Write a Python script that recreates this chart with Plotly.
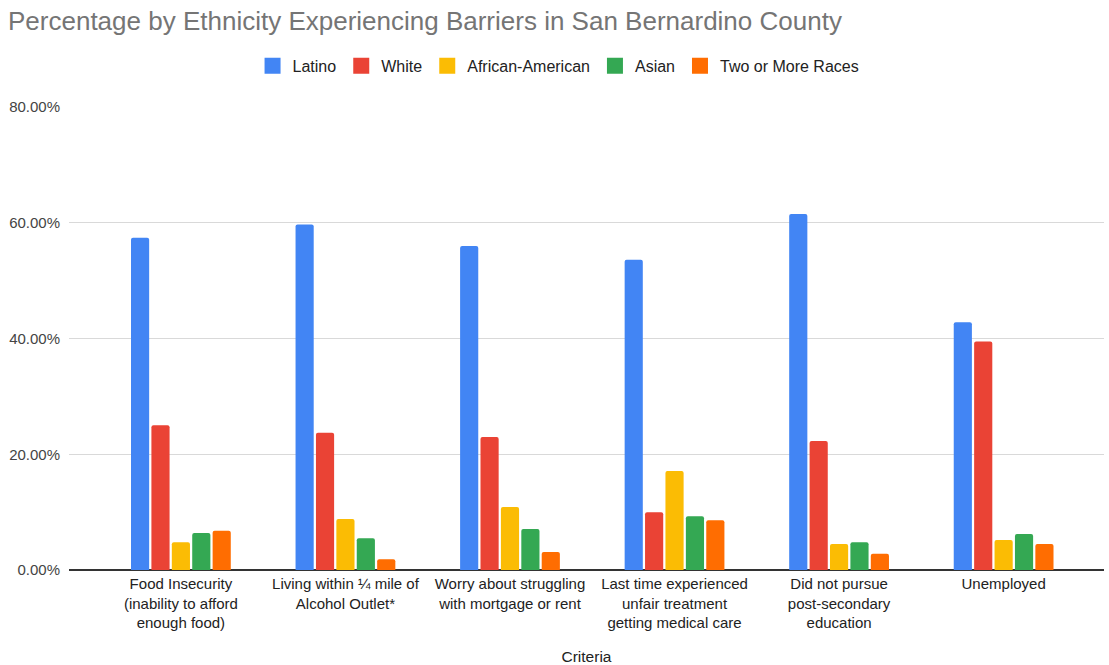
import plotly.graph_objects as go

# Survey criteria (x categories) and percentage per ethnic group
criteria = [
    "Food Insecurity<br>(inability to afford<br>enough food)",
    "Living within ¼ mile of<br>Alcohol Outlet*",
    "Worry about struggling<br>with mortgage or rent",
    "Last time experienced<br>unfair treatment<br>getting medical care",
    "Did not pursue<br>post-secondary<br>education",
    "Unemployed",
]

latino = [57.4, 59.7, 56.0, 53.6, 61.5, 42.8]
white = [25.0, 23.7, 23.0, 10.0, 22.3, 39.5]
african_american = [4.8, 8.8, 10.9, 17.1, 4.5, 5.2]
asian = [6.4, 5.5, 7.1, 9.3, 4.8, 6.2]
two_or_more = [6.8, 1.85, 3.1, 8.6, 2.8, 4.5]

y_ticks = [0, 20, 40, 60, 80]
y_tick_text = ["0.00%", "20.00%", "40.00%", "60.00%", "80.00%"]

series = [
    ("Latino", latino, "#4285F4"),
    ("White", white, "#EA4335"),
    ("African-American", african_american, "#FBBC04"),
    ("Asian", asian, "#34A853"),
    ("Two or More Races", two_or_more, "#FF6D01"),
]

fig = go.Figure()
for name, values, color in series:
    fig.add_trace(go.Bar(
        name=name,
        x=criteria,
        y=values,
        legendgroup=name,
        showlegend=False,
        marker=dict(color=color, line=dict(width=0)),
        hovertemplate="%{y:.2f}%<extra>" + name + "</extra>",
    ))

# Legend keys drawn as larger square swatches, linked to the bars by group
for name, values, color in series:
    fig.add_trace(go.Scatter(
        name=name,
        x=[None],
        y=[None],
        mode="markers",
        legendgroup=name,
        showlegend=True,
        marker=dict(symbol="square", size=16, color=color),
        hoverinfo="skip",
    ))

fig.update_layout(
    width=1109,
    height=665,
    margin=dict(l=69, r=5, t=107, b=95),
    paper_bgcolor="white",
    plot_bgcolor="white",
    font=dict(family="Liberation Sans, Arial, sans-serif", size=15, color="#222222"),
    title=dict(
        text="Percentage by Ethnicity Experiencing Barriers in San Bernardino County",
        x=8 / 1109, xanchor="left", xref="container",
        y=0.968, yanchor="middle", yref="container",
        font=dict(size=26, color="#757575"),
    ),
    barmode="group",
    bargap=0.38,
    bargroupgap=0.11,
    barcornerradius=2,
    legend=dict(
        orientation="h",
        x=0.473, xanchor="center",
        y=1.089, yanchor="middle",
        font=dict(size=16, color="#222222"),
        itemwidth=30,
        traceorder="normal",
    ),
    xaxis=dict(
        type="category",
        range=[-0.68, 5.61],
        showgrid=False,
        showline=False,
        zeroline=False,
        ticks="",
        ticklabelstandoff=3,
        tickfont=dict(size=15, color="#222222"),
        title=dict(text="Criteria", font=dict(size=15.5, color="#222222"), standoff=22),
        automargin=False,
    ),
    yaxis=dict(
        range=[0, 80],
        tickvals=y_ticks,
        ticktext=y_tick_text,
        showgrid=True,
        gridcolor="#D9D9D9",
        gridwidth=1,
        zeroline=True,
        zerolinecolor="#333333",
        zerolinewidth=1.5,
        showline=False,
        ticks="",
        ticklabelstandoff=8,
        tickfont=dict(size=15, color="#444444"),
        automargin=False,
    ),
)

fig.write_html("out.html")
